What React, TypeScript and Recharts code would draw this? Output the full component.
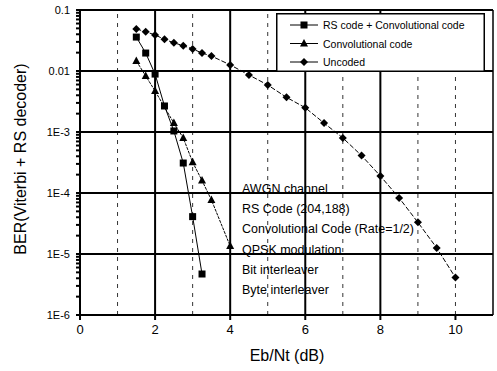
import React from "react";
import { LineChart, Line, XAxis, YAxis, ReferenceLine } from "recharts";

const rsX = [1.5, 1.75, 2.0, 2.25, 2.5, 2.75, 3.0, 3.25];
const rsY = [0.036, 0.0197, 0.0089, 0.00267, 0.00104, 0.00031, 0.000041, 0.0000047];

const convX = [1.5, 1.75, 2.0, 2.5, 2.75, 3.0, 3.25, 3.5, 4.0];
const convY = [0.0146, 0.0083, 0.0047, 0.0014, 0.0008, 0.00032, 0.00016, 0.000077, 0.0000135];

const uncX = [1.5, 1.75, 2.0, 2.25, 2.5, 2.75, 3.0, 3.25, 3.5, 4.0, 4.5, 5.0, 5.5, 6.0, 6.5, 7.0, 7.5, 8.0, 8.5, 9.0, 9.5, 10.0];
const uncY = [0.049, 0.044, 0.039, 0.033, 0.029, 0.026, 0.023, 0.0197, 0.0176, 0.0126, 0.0086, 0.0059, 0.0037, 0.0025, 0.0014, 0.0008, 0.00041, 0.00019, 0.000083, 0.000033, 0.0000126, 0.0000041];

const seriesNames = ["RS code + Convolutional code", "Convolutional code", "Uncoded"];

const xTicks = [0, 2, 4, 6, 8, 10];
const xMajorGrid = [2, 4, 6, 8];
const xMinorGrid = [1, 3, 5, 7, 9, 10];

const yTickValues = [0.1, 0.01, 0.001, 0.0001, 0.00001, 0.000001];
const yTickLabels = ["0.1", "0.01", "1E-3", "1E-4", "1E-5", "1E-6"];

const annotations = [
  "AWGN channel",
  "RS Code (204,188)",
  "Convolutional Code (Rate=1/2)",
  "QPSK modulation",
  "Bit interleaver",
  "Byte interleaver",
];

const toPts = (xs: number[], ys: number[]) => xs.map((x, i) => ({ x, y: ys[i] }));
const rsData = toPts(rsX, rsY);
const convData = toPts(convX, convY);
const uncData = toPts(uncX, uncY);

// minor ticks for log axis
const yAllTicks: number[] = [];
for (let e = -6; e <= -1; e++) {
  const base = Math.pow(10, e);
  yAllTicks.push(base);
  if (e < -1) for (let m = 2; m <= 9; m++) yAllTicks.push(m * base);
}

const FONT = "'Liberation Sans', Arial, sans-serif";

const Square = (p: any) => {
  const { cx, cy, index } = p;
  if (cx == null || cy == null) return <g key={"s" + index} />;
  return <rect key={"s" + index} x={cx - 3.5} y={cy - 3.5} width={7} height={7} fill="#000" />;
};
const Tri = (p: any) => {
  const { cx, cy, index } = p;
  if (cx == null || cy == null) return <g key={"t" + index} />;
  return <polygon key={"t" + index} points={`${cx},${cy - 4.5} ${cx + 4},${cy + 3} ${cx - 4},${cy + 3}`} fill="#000" />;
};
const Diamond = (p: any) => {
  const { cx, cy, index } = p;
  if (cx == null || cy == null) return <g key={"d" + index} />;
  return <polygon key={"d" + index} points={`${cx},${cy - 4} ${cx + 4},${cy} ${cx},${cy + 4} ${cx - 4},${cy}`} fill="#000" />;
};

const yFmt = (v: number) => {
  const i = yTickValues.findIndex((t) => Math.abs(Math.log10(t) - Math.log10(v)) < 1e-6);
  return i >= 0 ? yTickLabels[i] : "";
};

const LegendBox = () => {
  const markers = [
    (x: number, y: number) => <rect x={x - 3.5} y={y - 3.5} width={7} height={7} fill="#000" />,
    (x: number, y: number) => <polygon points={`${x},${y - 4.5} ${x + 4},${y + 3} ${x - 4},${y + 3}`} fill="#000" />,
    (x: number, y: number) => <polygon points={`${x},${y - 4} ${x + 4},${y} ${x},${y + 4} ${x - 4},${y}`} fill="#000" />,
  ];
  return (
    <g transform="translate(276,13)">
      <rect x={0.75} y={0.75} width={207.5} height={57.5} fill="#fff" stroke="#000" strokeWidth={1.5} />
      {seriesNames.map((n, i) => {
        const y = 12 + i * 18.5;
        return (
          <g key={n}>
            <line x1={14} x2={42} y1={y} y2={y} stroke="#000" strokeWidth={1} />
            {markers[i](28, y)}
            <text x={47} y={y + 4} fontSize={10.5} fontFamily={FONT} fill="#000">
              {n}
            </text>
          </g>
        );
      })}
    </g>
  );
};

export default function App() {
  return (
    <div style={{ position: "relative", width: 497, height: 371 }}>
      <style>{`body{margin:0;overflow:hidden}`}</style>
      <LineChart width={497} height={371} margin={{ top: 10, right: 4, left: 0, bottom: 0 }}>
        <XAxis
          dataKey="x"
          type="number"
          domain={[0, 11]}
          ticks={xTicks}
          allowDuplicatedCategory={false}
          height={56}
          stroke="#000"
          strokeWidth={2}
          tickSize={5}
          tickMargin={5}
          tick={{ fill: "#000", fontSize: 13, fontFamily: FONT }}
          label={{
            content: () => (
              <text x={287} y={361} textAnchor="middle" fontSize={16} fontFamily={FONT} fill="#000">
                Eb/Nt (dB)
              </text>
            ),
          }}
        />
        <YAxis
          dataKey="y"
          type="number"
          scale="log"
          domain={[1e-6, 0.1]}
          ticks={yAllTicks}
          interval={0}
          tickFormatter={yFmt}
          width={80}
          stroke="#000"
          strokeWidth={2}
          tickSize={4}
          tickMargin={6}
          tick={{ fill: "#000", fontSize: 11, fontFamily: FONT }}
          label={{
            content: () => (
              <text
                x={20}
                y={159}
                transform="rotate(-90,20,159)"
                textAnchor="middle"
                dominantBaseline="central"
                fontSize={16}
                fontFamily={FONT}
                fill="#000"
              >
                BER(Viterbi + RS decoder)
              </text>
            ),
          }}
        />
        {xMinorGrid.map((x) => (
          <ReferenceLine key={"xm" + x} x={x} stroke="#000" strokeWidth={0.8} strokeDasharray="4 5" />
        ))}
        {xMajorGrid.map((x) => (
          <ReferenceLine key={"xg" + x} x={x} stroke="#000" strokeWidth={2} />
        ))}
        <ReferenceLine x={11} stroke="#000" strokeWidth={1.5} />
        {yTickValues.map((y) => (
          <ReferenceLine key={"yg" + y} y={y} stroke="#000" strokeWidth={2} />
        ))}
        <Line
          data={rsData}
          dataKey="y"
          name={seriesNames[0]}
          stroke="#000"
          strokeWidth={1}
          dot={Square}
          isAnimationActive={false}
        />
        <Line
          data={convData}
          dataKey="y"
          name={seriesNames[1]}
          stroke="#000"
          strokeWidth={1}
          strokeDasharray="3 1"
          dot={Tri}
          isAnimationActive={false}
        />
        <Line
          data={uncData}
          dataKey="y"
          name={seriesNames[2]}
          stroke="#000"
          strokeWidth={1}
          strokeDasharray="5 2"
          dot={Diamond}
          isAnimationActive={false}
        />
      </LineChart>
      <svg
        width={497}
        height={371}
        style={{ position: "absolute", left: 0, top: 0, pointerEvents: "none" }}
      >
        <LegendBox />
        {annotations.map((t, i) => (
          <text key={t} x={242} y={193 + i * 20.2} fontSize={12.5} fontFamily={FONT} fill="#000">
            {t}
          </text>
        ))}
      </svg>
    </div>
  );
}
